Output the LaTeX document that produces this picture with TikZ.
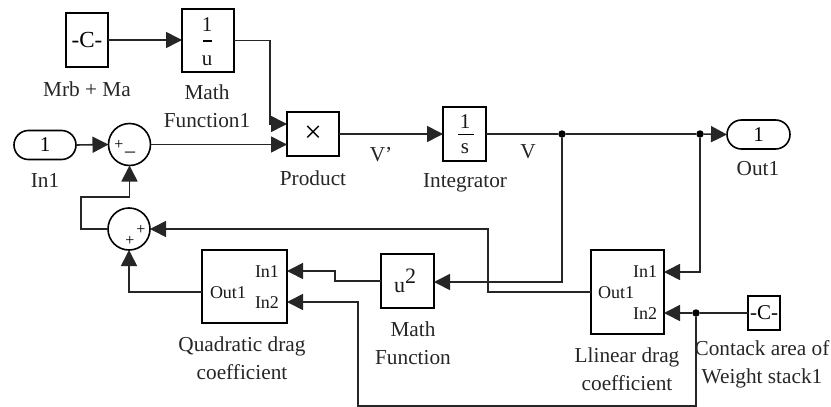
\documentclass[tikz,border=0pt]{standalone}
\usepackage{fontspec}
\setmainfont{Liberation Serif}
\usetikzlibrary{arrows.meta,shapes.misc}
\tikzset{
  block/.style={draw=black,line width=1.6pt,fill=white,inner sep=0pt,outer sep=0pt,align=center,font=\fontsize{21}{24}\selectfont},
  port/.style={block,rounded rectangle,rounded rectangle arc length=180},
  sumnode/.style={draw=black,line width=1.6pt,circle,fill=white,minimum size=42pt,inner sep=0pt,outer sep=0pt},
  wire/.style={line width=1.6pt,draw=black!85},
  sig/.style={wire,-{Triangle[length=16pt,width=16pt]}},
  lab/.style={inner sep=0pt,align=center,font=\fontsize{21.3}{28}\selectfont,text=black!85},
  inner/.style={inner sep=0pt,font=\fontsize{18}{22}\selectfont,text=black!90},
  sign/.style={inner sep=0pt,font=\fontsize{16}{16}\selectfont},
  dot/.style={circle,fill=black,minimum size=7.5pt,inner sep=0pt,outer sep=0pt}
}
\begin{document}
\begin{tikzpicture}[x=1pt,y=-1pt]
\useasboundingbox (0,0) rectangle (831,407);
% blocks
\node[block,minimum width=42pt,minimum height=54pt,font=\fontsize{23}{24}\selectfont] (mass) at (87,40) {-C-};
\node[block,minimum width=52pt,minimum height=63pt] (inv) at (208,40.5) {};
\node[inner,font=\fontsize{21}{22}\selectfont] (invone) at (207,25) {1};
\coordinate (ubarl) at (203,41);
\coordinate (ubarr) at (212,41);
\draw[line width=1.4pt] (ubarl) -- (ubarr);
\node[inner,font=\fontsize{21}{22}\selectfont] (invu) at (207,61) {u};
\node[port,minimum width=62pt,minimum height=29pt] (in) at (45,145) {1};
\node[sumnode] (suma) at (129.5,144.5) {};
\node[sign] (sumaplus) at (119,145) {+};
\node[sign,font=\fontsize{20}{20}\selectfont] (sumaminus) at (130,152) {\_};
\node[sumnode] (sumb) at (129,229) {};
\node[sign] (sumbplusa) at (141,230) {+};
\node[sign] (sumbplusb) at (130,241) {+};
\node[block,minimum width=52pt,minimum height=44pt] (prod) at (313,134) {\fontsize{31}{31}\selectfont ×};
\node[block,minimum width=43pt,minimum height=54pt] (integ) at (464.5,134) {};
\node[inner,font=\fontsize{21}{22}\selectfont] (intone) at (465,122) {1};
\node[inner,font=\fontsize{21}{22}\selectfont] (ints) at (465,149) {s};
\coordinate (barl) at (458,134);
\coordinate (barr) at (474,134);
\draw[line width=1pt] (barl) -- (barr);
\node[port,minimum width=63pt,minimum height=29pt] (out) at (758.5,134.5) {1};
\node[block,minimum width=53pt,minimum height=54pt] (sq) at (407.5,281) {};
\node[inner,font=\fontsize{22}{22}\selectfont] (squ) at (405,281) {u\raisebox{9pt}{2}};
\node[block,minimum width=85pt,minimum height=73pt] (quad) at (244.5,286.5) {};
\node[inner] (quadin) at (267,272) {In1};
\node[inner] (quadinb) at (267,303) {In2};
\node[inner] (quadout) at (228,293) {Out1};
\node[block,minimum width=73pt,minimum height=84pt] (lin) at (627.5,292) {};
\node[inner] (linin) at (645,272) {In1};
\node[inner] (lininb) at (645,314) {In2};
\node[inner] (linout) at (616,293) {Out1};
\node[block,minimum width=32pt,minimum height=34pt] (area) at (764,313) {-C-};
% port coordinates
\coordinate (prodina) at (287,124);
\coordinate (prodinb) at (287,144.5);
\coordinate (quadina) at (287,271);
\coordinate (quadinc) at (287,302);
\coordinate (linina) at (664,272);
\coordinate (lininc) at (664,313);
\coordinate (sqin) at (434,282);
\coordinate (sqout) at (381,281);
\coordinate (quadoutp) at (202,292);
\coordinate (linoutp) at (591,292);
% junctions
\node[dot] (ja) at (562,134) {};
\node[dot] (jb) at (700,134) {};
\node[dot] (jc) at (696,313) {};
% connectors
\draw[sig] (mass.east) -- (inv.west |- mass.east);
\draw[sig] (inv.east) -- (270,40.5) -- (270,124) -- (prodina);
\draw[sig] (in.east) -- (suma.west);
\draw[sig] (suma.east) -- (prodinb);
\draw[sig] (prod.east) -- (integ.west);
\draw[wire] (integ.east) -- (ja) -- (jb);
\draw[sig] (jb) -- (out.west);
\draw[sig] (ja) -- (562,282) -- (sqin);
\draw[sig] (sqout) -- (335,281) -- (335,271) -- (quadina);
\draw[sig] (jb) -- (700,272) -- (linina);
\draw[sig] (area.west) -- (jc) -- (lininc);
\draw[sig] (jc) -- (696,406) -- (358,406) -- (358,302) -- (quadinc);
\draw[sig] (linoutp) -- (488,292) -- (488,229) -- (sumb.east);
\draw[sig] (quadoutp) -- (129,292) -- (sumb.south);
\draw[sig] (sumb.west) -- (81,229) -- (81,197) -- (129.5,197) -- (suma.south);
% labels
\node[lab] (lmass) at (87,89) {Mrb + Ma};
\node[lab] (linv) at (207,106) {Math\\Function1};
\node[lab] (lin1) at (45,180) {In1};
\node[lab] (lprod) at (313,178) {Product};
\node[lab] (lvp) at (381,155) {V'};
\node[lab] (lint) at (465,183) {Integrator};
\node[lab] (lv) at (528,152) {V};
\node[lab] (lout) at (758,169) {Out1};
\node[lab] (lquad) at (242,358) {Quadratic drag\\coefficient};
\node[lab] (lsq) at (413,343) {Math\\Function};
\node[lab] (llin) at (627,369) {Llinear drag\\coefficient};
\node[lab] (larea) at (762,364) {Contack area of\\Weight stack1};
\end{tikzpicture}
\end{document}
